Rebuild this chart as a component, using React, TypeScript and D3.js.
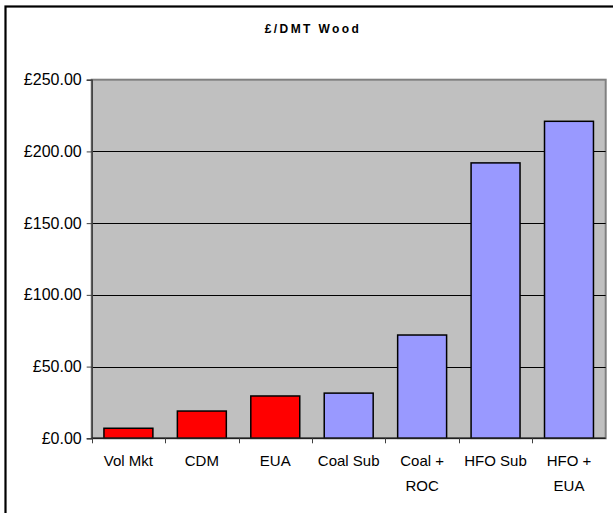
import React, { useRef, useEffect } from 'react';
import * as d3 from 'd3';

// chart data
const categories = ['Vol Mkt', 'CDM', 'EUA', 'Coal Sub', 'Coal + ROC', 'HFO Sub', 'HFO + EUA'];
const categoryLines = [['Vol Mkt'], ['CDM'], ['EUA'], ['Coal Sub'], ['Coal +', 'ROC'], ['HFO Sub'], ['HFO +', 'EUA']];
const values = [7, 19, 29.5, 31.5, 72, 192, 221];
const groups = ['carbon', 'carbon', 'carbon', 'fuel', 'fuel', 'fuel', 'fuel'];
const yTicks = [0, 50, 100, 150, 200, 250];
const title = '£/DMT Wood';

const FONT = '"Liberation Sans", Arial, sans-serif';

const App = () => {
  const svgRef = useRef<SVGSVGElement>(null);

  useEffect(() => {
    const svg = d3.select(svgRef.current);
    svg.selectAll('*').remove();

    const width = 613;
    const height = 513;
    // plot area
    const plot = { left: 91.7, top: 79.7, right: 605.7, bottom: 438.3 };

    // outer chart border (runs off the right and bottom of the picture)
    svg.append('rect')
      .attr('x', 5.5)
      .attr('y', 6.5)
      .attr('width', width + 20)
      .attr('height', height + 20)
      .attr('fill', '#ffffff')
      .attr('stroke', '#000000')
      .attr('stroke-width', 2.2);

    // title
    svg.append('text')
      .attr('x', 313)
      .attr('y', 32.7)
      .attr('text-anchor', 'middle')
      .attr('font-family', FONT)
      .attr('font-size', 12)
      .attr('font-weight', 'bold')
      .attr('letter-spacing', 2.4)
      .text(title);

    const x = d3.scaleBand()
      .domain(categories)
      .range([plot.left, plot.right])
      .padding(0);

    const y = d3.scaleLinear()
      .domain([0, 250])
      .range([plot.bottom, plot.top]);

    // plot background
    svg.append('rect')
      .attr('x', plot.left)
      .attr('y', plot.top)
      .attr('width', plot.right - plot.left)
      .attr('height', plot.bottom - plot.top)
      .attr('fill', '#C0C0C0')
      .attr('stroke', '#808080')
      .attr('stroke-width', 2);

    // gridlines
    svg.append('g')
      .selectAll('line')
      .data(yTicks.filter(t => t > 0 && t < 250))
      .join('line')
      .attr('x1', plot.left)
      .attr('x2', plot.right)
      .attr('y1', d => Math.round(y(d)) + 0.5)
      .attr('y2', d => Math.round(y(d)) + 0.5)
      .attr('stroke', '#000000')
      .attr('stroke-width', 1);

    // bars
    const bw = x.bandwidth() / 1.5;
    svg.append('g')
      .selectAll('rect')
      .data(values)
      .join('rect')
      .attr('x', (d, i) => (x(categories[i]) as number) + (x.bandwidth() - bw) / 2)
      .attr('y', d => y(d))
      .attr('width', bw)
      .attr('height', d => y(0) - y(d))
      .attr('fill', (d, i) => (groups[i] === 'carbon' ? '#FF0000' : '#9999FF'))
      .attr('stroke', '#000000')
      .attr('stroke-width', 1.5);

    // Y axis
    const yAxis = svg.append('g')
      .attr('transform', `translate(${plot.left},0)`)
      .call(
        d3.axisLeft(y)
          .tickValues(yTicks)
          .tickSize(5)
          .tickPadding(5)
          .tickFormat(d => '£' + d3.format('.2f')(d as number))
      );
    yAxis.select('.domain').attr('stroke', '#404040').attr('stroke-width', 1.5);
    yAxis.selectAll('.tick line').attr('stroke', '#404040');
    yAxis.selectAll('text')
      .attr('font-family', FONT)
      .attr('font-size', 16)
      .attr('fill', '#000000');

    // X axis
    svg.append('line')
      .attr('x1', plot.left)
      .attr('x2', plot.right)
      .attr('y1', plot.bottom)
      .attr('y2', plot.bottom)
      .attr('stroke', '#202020')
      .attr('stroke-width', 1.5);

    svg.append('g')
      .selectAll('line')
      .data(categories)
      .join('line')
      .attr('x1', d => Math.round(x(d) as number) + 0.5)
      .attr('x2', d => Math.round(x(d) as number) + 0.5)
      .attr('y1', plot.bottom)
      .attr('y2', plot.bottom + 5)
      .attr('stroke', '#404040');

    const labels = svg.append('g')
      .selectAll('text')
      .data(categories)
      .join('text')
      .attr('text-anchor', 'middle')
      .attr('font-family', FONT)
      .attr('font-size', 15)
      .attr('fill', '#000000');

    labels.each(function (d, i) {
      const cx = (x(d) as number) + x.bandwidth() / 2;
      d3.select(this)
        .selectAll('tspan')
        .data(categoryLines[i])
        .join('tspan')
        .attr('x', cx)
        .attr('y', (line, j) => 465.7 + j * 25)
        .text(line => line);
    });
  }, []);

  return (
    <svg
      ref={svgRef}
      width={613}
      height={513}
      style={{ position: 'absolute', left: 0, top: 0, display: 'block' }}
    />
  );
};

export default App;
